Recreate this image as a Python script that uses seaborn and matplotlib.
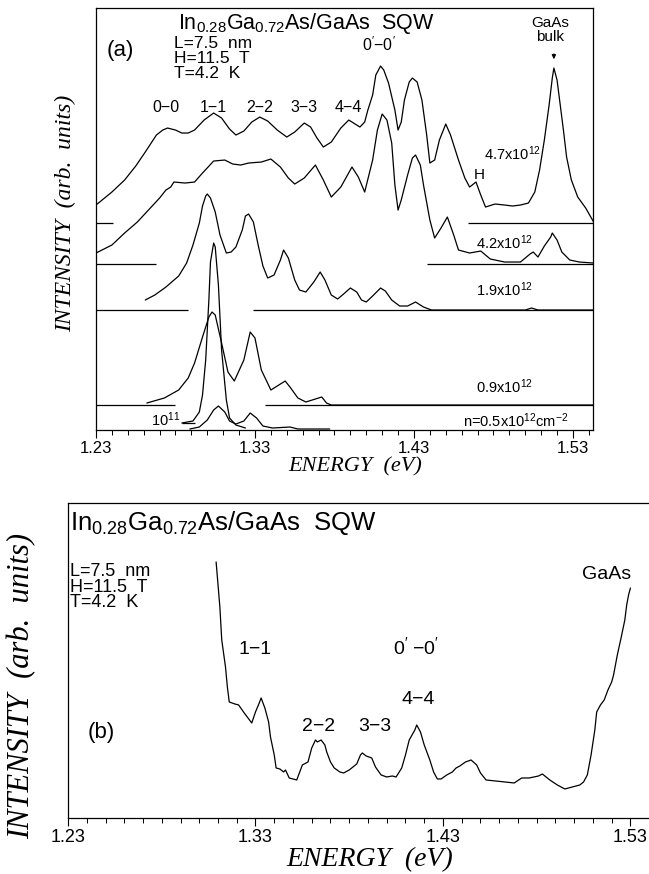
import matplotlib
matplotlib.use("Agg")
import matplotlib.pyplot as plt
from matplotlib.ticker import MultipleLocator
import seaborn as sns

# =====================
# (a) spectra for several densities, offset vertically
# =====================
e_47 = [1.230, 1.240, 1.248, 1.255, 1.261, 1.268, 1.272, 1.275, 1.280, 1.284,
        1.288, 1.292, 1.298, 1.304, 1.309, 1.314, 1.318, 1.323, 1.328, 1.333,
        1.338, 1.344, 1.350, 1.355, 1.361, 1.365, 1.369, 1.373, 1.378, 1.384,
        1.389, 1.393, 1.396, 1.399, 1.401, 1.404, 1.406, 1.409, 1.411, 1.414,
        1.418, 1.420, 1.422, 1.424, 1.427, 1.429, 1.432, 1.435, 1.438, 1.440,
        1.443, 1.446, 1.450, 1.453, 1.456, 1.458, 1.462, 1.465, 1.469, 1.472,
        1.475, 1.481, 1.487, 1.492, 1.497, 1.502, 1.506, 1.509, 1.512, 1.515,
        1.517, 1.518, 1.520, 1.522, 1.524, 1.526, 1.529, 1.533, 1.538, 1.543]
i_47 = [2.25, 2.38, 2.50, 2.64, 2.78, 2.95, 3.00, 3.02, 3.00, 2.97,
        2.97, 3.00, 3.10, 3.17, 3.12, 3.01, 2.95, 2.99, 3.08, 3.13,
        3.09, 3.00, 2.93, 2.98, 3.07, 3.03, 2.92, 2.83, 2.88, 3.02,
        3.10, 3.06, 3.03, 3.08, 3.20, 3.35, 3.55, 3.64, 3.60, 3.47,
        3.20, 3.00, 3.08, 3.30, 3.48, 3.52, 3.48, 3.30, 2.95, 2.67,
        2.70, 2.90, 3.06, 2.95, 2.80, 2.70, 2.52, 2.43, 2.48, 2.35,
        2.23, 2.26, 2.25, 2.24, 2.25, 2.27, 2.38, 2.60, 2.90, 3.25,
        3.52, 3.62, 3.50, 3.25, 3.00, 2.73, 2.50, 2.33, 2.22, 2.08]

e_42 = [1.230, 1.240, 1.248, 1.256, 1.263, 1.270, 1.274, 1.277, 1.279, 1.286,
        1.292, 1.297, 1.304, 1.311, 1.316, 1.321, 1.326, 1.334, 1.340, 1.346,
        1.351, 1.355, 1.361, 1.368, 1.373, 1.378, 1.384, 1.391, 1.395, 1.399,
        1.404, 1.407, 1.410, 1.413, 1.416, 1.418, 1.420, 1.422, 1.426, 1.429,
        1.431, 1.434, 1.436, 1.440, 1.443, 1.447, 1.451, 1.455, 1.458, 1.465,
        1.472, 1.478, 1.487, 1.497, 1.503, 1.505, 1.508, 1.512, 1.516, 1.517,
        1.520, 1.523, 1.528, 1.534, 1.543]
i_42 = [1.77, 1.85, 1.97, 2.08, 2.20, 2.32, 2.40, 2.43, 2.48, 2.47,
        2.48, 2.57, 2.69, 2.70, 2.66, 2.65, 2.67, 2.68, 2.71, 2.63,
        2.52, 2.46, 2.52, 2.65, 2.50, 2.33, 2.43, 2.63, 2.53, 2.38,
        2.70, 3.00, 3.16, 3.10, 2.87, 2.45, 2.20, 2.30, 2.55, 2.72,
        2.75, 2.65, 2.45, 2.10, 1.92, 2.02, 2.13, 1.95, 1.80, 1.77,
        1.79, 1.71, 1.68, 1.68, 1.76, 1.78, 1.73, 1.84, 1.93, 1.97,
        1.90, 1.78, 1.70, 1.68, 1.67]

e_19 = [1.261, 1.267, 1.274, 1.282, 1.287, 1.291, 1.295, 1.297, 1.299, 1.300,
        1.302, 1.305, 1.308, 1.312, 1.315, 1.318, 1.322, 1.324, 1.326, 1.329,
        1.332, 1.335, 1.338, 1.342, 1.346, 1.348, 1.351, 1.355, 1.358, 1.362,
        1.367, 1.371, 1.374, 1.378, 1.382, 1.385, 1.390, 1.394, 1.397, 1.400,
        1.404, 1.409, 1.412, 1.416, 1.421, 1.426, 1.431, 1.436, 1.441, 1.500,
        1.504, 1.508, 1.543]
i_19 = [1.30, 1.35, 1.43, 1.54, 1.67, 1.85, 2.07, 2.24, 2.34, 2.36,
        2.32, 2.18, 1.95, 1.77, 1.78, 1.83, 2.00, 2.14, 2.16, 2.08,
        1.85, 1.64, 1.52, 1.55, 1.70, 1.80, 1.72, 1.50, 1.40, 1.38,
        1.48, 1.58, 1.50, 1.35, 1.31, 1.35, 1.42, 1.38, 1.30, 1.28,
        1.34, 1.42, 1.39, 1.30, 1.24, 1.24, 1.28, 1.23, 1.20, 1.20,
        1.22, 1.20, 1.20]

e_09 = [1.262, 1.273, 1.282, 1.288, 1.292, 1.297, 1.301, 1.303, 1.305, 1.309,
        1.313, 1.317, 1.323, 1.327, 1.330, 1.334, 1.340, 1.349, 1.352, 1.357,
        1.362, 1.372, 1.375, 1.378, 1.543]
i_09 = [0.27, 0.32, 0.40, 0.52, 0.67, 0.93, 1.13, 1.18, 1.15, 0.87,
        0.58, 0.49, 0.70, 0.98, 0.92, 0.60, 0.40, 0.49, 0.43, 0.32,
        0.28, 0.33, 0.27, 0.25, 0.25]

e_05 = [1.289, 1.295, 1.300, 1.304, 1.307, 1.311, 1.314, 1.318, 1.323, 1.327,
        1.331, 1.335, 1.341, 1.352, 1.357, 1.377]
i_05 = [0.01, 0.03, 0.10, 0.20, 0.24, 0.18, 0.09, 0.06, 0.09, 0.17,
        0.12, 0.04, 0.02, 0.03, 0.01, 0.01]

e_01 = [1.284, 1.291, 1.295, 1.297, 1.299, 1.301, 1.302, 1.304, 1.305, 1.307,
        1.309, 1.312, 1.314, 1.318, 1.324]
i_01 = [0.07, 0.09, 0.18, 0.35, 0.70, 1.30, 1.68, 1.87, 1.83, 1.45,
        0.80, 0.30, 0.12, 0.05, 0.02]

# zero lines of the offset spectra (left / right pieces)
base_y = [2.07, 2.07, 1.66, 1.66, 1.20, 1.20, 0.25, 0.25, 0.07]
base_x0 = [1.230, 1.464, 1.230, 1.438, 1.230, 1.329, 1.230, 1.336, 1.284]
base_x1 = [1.241, 1.543, 1.268, 1.543, 1.288, 1.543, 1.280, 1.543, 1.292]

peak_labels = ["0\u22120", "1\u22121", "2\u22122", "3\u22123", "4\u22124"]
peak_e = [1.274, 1.304, 1.333, 1.361, 1.389]

# =====================
# (b) single spectrum
# =====================
e_b = [1.309, 1.311, 1.312, 1.314, 1.315, 1.316, 1.319, 1.321, 1.324, 1.328,
       1.330, 1.332, 1.333, 1.335, 1.337, 1.338, 1.340, 1.341, 1.343, 1.345,
       1.346, 1.348, 1.352, 1.355, 1.357, 1.358, 1.360, 1.362, 1.363, 1.365,
       1.367, 1.368, 1.370, 1.372, 1.375, 1.377, 1.380, 1.384, 1.386, 1.387,
       1.389, 1.392, 1.394, 1.397, 1.400, 1.403, 1.405, 1.408, 1.410, 1.412,
       1.415, 1.416, 1.418, 1.420, 1.423, 1.425, 1.427, 1.429, 1.432, 1.435,
       1.437, 1.439, 1.442, 1.445, 1.448, 1.450, 1.453, 1.458, 1.463, 1.468,
       1.472, 1.476, 1.481, 1.483, 1.487, 1.491, 1.495, 1.499, 1.503, 1.505,
       1.507, 1.509, 1.511, 1.512, 1.514, 1.516, 1.518, 1.520, 1.521, 1.523,
       1.525, 1.527, 1.528, 1.529, 1.530]
i_b = [2.56, 2.11, 1.78, 1.51, 1.31, 1.16, 1.14, 1.13, 1.05, 0.95,
       1.06, 1.15, 1.20, 1.10, 0.96, 0.81, 0.63, 0.50, 0.49, 0.46,
       0.48, 0.40, 0.38, 0.53, 0.55, 0.56, 0.70, 0.78, 0.76, 0.78,
       0.73, 0.66, 0.56, 0.50, 0.46, 0.45, 0.48, 0.54, 0.63, 0.65,
       0.62, 0.60, 0.51, 0.43, 0.41, 0.42, 0.41, 0.50, 0.63, 0.78,
       0.88, 0.93, 0.86, 0.73, 0.58, 0.46, 0.39, 0.39, 0.43, 0.46,
       0.50, 0.52, 0.56, 0.58, 0.53, 0.45, 0.38, 0.37, 0.36, 0.35,
       0.40, 0.40, 0.42, 0.44, 0.38, 0.33, 0.29, 0.31, 0.33, 0.36,
       0.43, 0.63, 0.88, 1.06, 1.13, 1.18, 1.28, 1.36, 1.43, 1.63,
       1.80, 1.98, 2.13, 2.23, 2.30]

energy_ticks = [1.23, 1.33, 1.43, 1.53]

# =====================
# style
# =====================
sns.set_theme(style="ticks")
plt.rcParams["font.family"] = ["Liberation Sans", "DejaVu Sans"]
plt.rcParams["mathtext.fontset"] = "custom"
plt.rcParams["mathtext.rm"] = "Liberation Sans"
plt.rcParams["mathtext.it"] = "Liberation Sans:italic"
plt.rcParams["axes.linewidth"] = 0.9
plt.rcParams["text.color"] = "black"
plt.rcParams["axes.labelcolor"] = "black"
plt.rcParams["xtick.color"] = "black"
plt.rcParams["axes.edgecolor"] = "black"

SERIF = dict(family="Liberation Serif", style="italic")
LW = 0.9

fig = plt.figure(figsize=(6.49, 8.74), dpi=100)
ax_a = fig.add_axes([0.1479, 0.508, 0.7658, 0.4828])
ax_b = fig.add_axes([0.1048, 0.0641, 0.8952, 0.3604])


def style_axis(ax, xmax, ymax, labelsize):
    ax.set_xlim(1.23, xmax)
    ax.set_ylim(0, ymax)
    ax.set_yticks([])
    ax.set_xticks(energy_ticks)
    ax.set_xticklabels([f"{t:.2f}" for t in energy_ticks])
    ax.xaxis.set_minor_locator(MultipleLocator(0.01))
    ax.tick_params(axis="x", which="major", direction="out", length=6,
                   width=0.8, labelsize=labelsize, pad=2, colors="black")
    ax.tick_params(axis="x", which="minor", direction="out", length=3.5,
                   width=0.7, colors="black")


# ---- panel (a)
for e, i in [(e_47, i_47), (e_42, i_42), (e_19, i_19),
             (e_09, i_09), (e_05, i_05), (e_01, i_01)]:
    sns.lineplot(x=e, y=i, ax=ax_a, color="black", linewidth=LW,
                 estimator=None, sort=False)
ax_a.hlines(base_y, base_x0, base_x1, color="black", linewidth=LW)

style_axis(ax_a, 1.5426, 4.22, 12)
ax_a.set_xlabel("ENERGY  (eV)", fontsize=16, va="center", **SERIF)
ax_a.xaxis.set_label_coords(0.521, -0.088)
ax_a.set_ylabel("INTENSITY  (arb.  units)", fontsize=17, va="center", **SERIF)
ax_a.yaxis.set_label_coords(-0.062, 0.514)

ax_a.text(1.2816, 4.07, "In$_{0.28}$Ga$_{0.72}$As/GaAs  SQW", fontsize=15.5,
          ha="left", va="center")
ax_a.text(1.245, 3.80, "(a)", fontsize=16, ha="center", va="center")
for k, s in enumerate(["L=7.5  nm", "H=11.5  T", "T=4.2  K"]):
    ax_a.text(1.279, 3.87 - 0.15 * k, s, fontsize=12.5, ha="left", va="center")
for s, e in zip(peak_labels, peak_e):
    ax_a.text(e, 3.23, s, fontsize=11.5, ha="center", va="center")
ax_a.text(1.408, 3.85, "0$'$\u22120$'$", fontsize=11.5, ha="center", va="center")
ax_a.text(1.5155, 4.07, "GaAs", fontsize=11, ha="center", va="center")
ax_a.text(1.5155, 3.93, "bulk", fontsize=11, ha="center", va="center")
ax_a.annotate("", xy=(1.518, 3.68), xytext=(1.518, 3.79),
              arrowprops=dict(arrowstyle="-|>", lw=0.8, color="black",
                              mutation_scale=6))
ax_a.text(1.471, 2.55, "H", fontsize=11, ha="center", va="center")
ax_a.text(1.474, 2.76, "4.7x10$^{12}$", fontsize=10.5, ha="left", va="center")
ax_a.text(1.4867, 1.87, "4.2x10$^{12}$", fontsize=10.5, ha="center", va="center")
ax_a.text(1.4867, 1.40, "1.9x10$^{12}$", fontsize=10.5, ha="center", va="center")
ax_a.text(1.4867, 0.43, "0.9x10$^{12}$", fontsize=10.5, ha="center", va="center")
ax_a.text(1.494, 0.09, "n=0.5x10$^{12}$cm$^{-2}$", fontsize=10.5,
          ha="center", va="center")
ax_a.text(1.274, 0.10, "10$^{11}$", fontsize=10.5, ha="center", va="center")

# ---- panel (b)
sns.lineplot(x=e_b, y=i_b, ax=ax_b, color="black", linewidth=LW,
             estimator=None, sort=False)
style_axis(ax_b, 1.5399, 3.15, 13)
ax_b.spines["right"].set_visible(False)
ax_b.set_xlabel("ENERGY  (eV)", fontsize=20, va="center", **SERIF)
ax_b.xaxis.set_label_coords(0.52, -0.133)
ax_b.set_ylabel("INTENSITY  (arb.  units)", fontsize=22, va="center", **SERIF)
ax_b.yaxis.set_label_coords(-0.079, 0.42)

ax_b.text(1.231, 2.95, "In$_{0.28}$Ga$_{0.72}$As/GaAs  SQW", fontsize=18.5,
          ha="left", va="center")
for k, s in enumerate(["L=7.5  nm", "H=11.5  T", "T=4.2  K"]):
    ax_b.text(1.231, 2.46 - 0.155 * k, s, fontsize=13, ha="left", va="center")
ax_b.text(1.2476, 0.85, "(b)", fontsize=16, ha="center", va="center")
ax_b.text(1.517, 2.43, "GaAs", fontsize=14, ha="center", va="center")
ax_b.text(1.3297, 1.68, "1\u22121", fontsize=14, ha="center", va="center")
ax_b.text(1.4156, 1.71, "0$'$ \u22120$'$", fontsize=14, ha="center", va="center")
ax_b.text(1.4167, 1.18, "4\u22124", fontsize=14, ha="center", va="center")
ax_b.text(1.3639, 0.91, "2\u22122", fontsize=14, ha="center", va="center")
ax_b.text(1.3937, 0.91, "3\u22123", fontsize=14, ha="center", va="center")

fig.savefig("out.png", dpi=100)
